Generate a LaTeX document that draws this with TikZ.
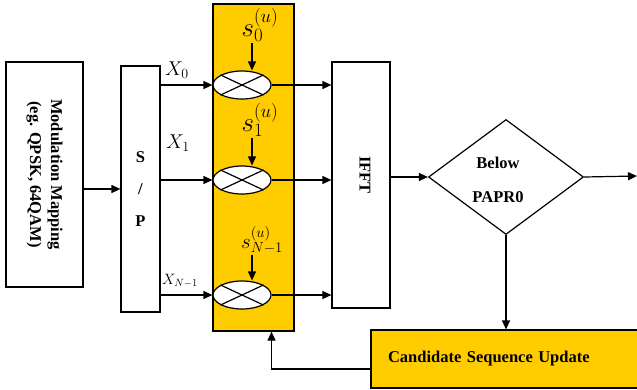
\RequirePackage{fix-cm}
\documentclass[tikz,border=0pt]{standalone}
\usepackage{fontspec}
\setmainfont{Liberation Serif}
\usepackage{tikz}
\usetikzlibrary{shapes.geometric,arrows.meta}
\definecolor{mulyellow}{RGB}{255,204,0}

\begin{document}
\begin{tikzpicture}[x=1pt, y=-1pt,
    blk/.style={draw, line width=1.2pt, inner sep=0pt},
    mult/.style={draw, line width=1.2pt, fill=white, ellipse,
        minimum width=58pt, minimum height=28pt, inner sep=0pt},
    arr/.style={-{Triangle[length=9pt,width=8pt]}, line width=1.2pt},
    lbl/.style={font=\bfseries\fontsize{16.5}{21}\selectfont, align=center},
    sig/.style={font=\fontsize{20}{22}\selectfont, inner sep=1pt},
    coef/.style={font=\fontsize{27}{29}\selectfont, inner sep=1pt},
]
\useasboundingbox (0,0) rectangle (637,389);

% Main blocks
\node[blk, minimum width=77pt, minimum height=225pt] (mod) at (44.5,174.5) {};
\node[lbl, rotate=-90] (modtxt) at (mod) {Modulation Mapping\\(eg. QPSK, 64QAM)};
\node[blk, lbl, minimum width=39pt, minimum height=246pt,
    font=\bfseries\fontsize{16.5}{32}\selectfont] (sp) at (140.5,189) {S\\/\\P};
\node[blk, fill=mulyellow, minimum width=81pt, minimum height=327pt] (yel) at (253.5,167.5) {};
\node[blk, minimum width=58pt, minimum height=246pt] (ifft) at (361,185) {};
\node[lbl, rotate=-90] (iffttxt) at (365,175) {IFFT};
\node[draw, line width=1.2pt, diamond, minimum width=155pt, minimum height=115pt,
    inner sep=0pt] (dia) at (506,177) {};
\node[lbl, font=\bfseries\fontsize{16.5}{34}\selectfont] (diatxt) at (498,180) {Below\\PAPR0};
\node[blk, lbl, fill=mulyellow, text width=250pt, align=left, inner xsep=17pt,
    minimum height=58pt] (cand) at (513,359) {Candidate Sequence Update};

% Multipliers
\node[mult] (m0) at (242,85) {};
\node[mult] (m1) at (242,180) {};
\node[mult] (m2) at (242,295) {};
\draw[line width=1.2pt] (m0.155) -- (m0.-25) (m0.25) -- (m0.205);
\draw[line width=1.2pt] (m1.155) -- (m1.-25) (m1.25) -- (m1.205);
\draw[line width=1.2pt] (m2.155) -- (m2.-25) (m2.25) -- (m2.205);

% Phase sequences
\node[coef] (s0) at (260,25) {$s_{0}^{(u)}$};
\node[coef] (s1) at (260,120) {$s_{1}^{(u)}$};
\node[coef, font=\fontsize{21}{23}\selectfont] (s2) at (262,240) {$s_{N-1}^{(u)}$};
\draw[arr] ([xshift=-8pt]s0.south) -- ([xshift=-8pt]s0.south |- m0.north);
\draw[arr] ([xshift=-8pt]s1.south) -- ([xshift=-8pt]s1.south |- m1.north);
\draw[arr] ([xshift=-10pt]s2.south) -- ([xshift=-10pt]s2.south |- m2.north);

% Sub-carrier symbols
\node[sig] (x0) at (177,70) {$X_{0}$};
\node[sig] (x1) at (178,143) {$X_{1}$};
\node[sig, font=\fontsize{15}{17}\selectfont] (x2) at (180,281) {$X_{N-1}$};

% Connectors
\draw[arr] (mod.east |- sp.west) -- (sp.west);
\draw[arr] (m0 -| sp.east) -- (m0);
\draw[arr] (m1 -| sp.east) -- (m1);
\draw[arr] (m2 -| sp.east) -- (m2);
\draw[arr] (m0) -- (m0 -| ifft.west);
\draw[arr] (m1) -- (m1 -| ifft.west);
\draw[arr] (m2) -- (m2 -| ifft.west);
\draw[arr] (ifft.east |- dia.west) -- (dia.west);
\coordinate (out) at (637,176);
\draw[arr] (dia.east) -- (out);
\draw[arr] (dia.south) -- (dia.south |- cand.north);
\draw[arr] ([yshift=-10pt]cand.west) -| ([xshift=18pt]yel.south);

\end{tikzpicture}
\end{document}
